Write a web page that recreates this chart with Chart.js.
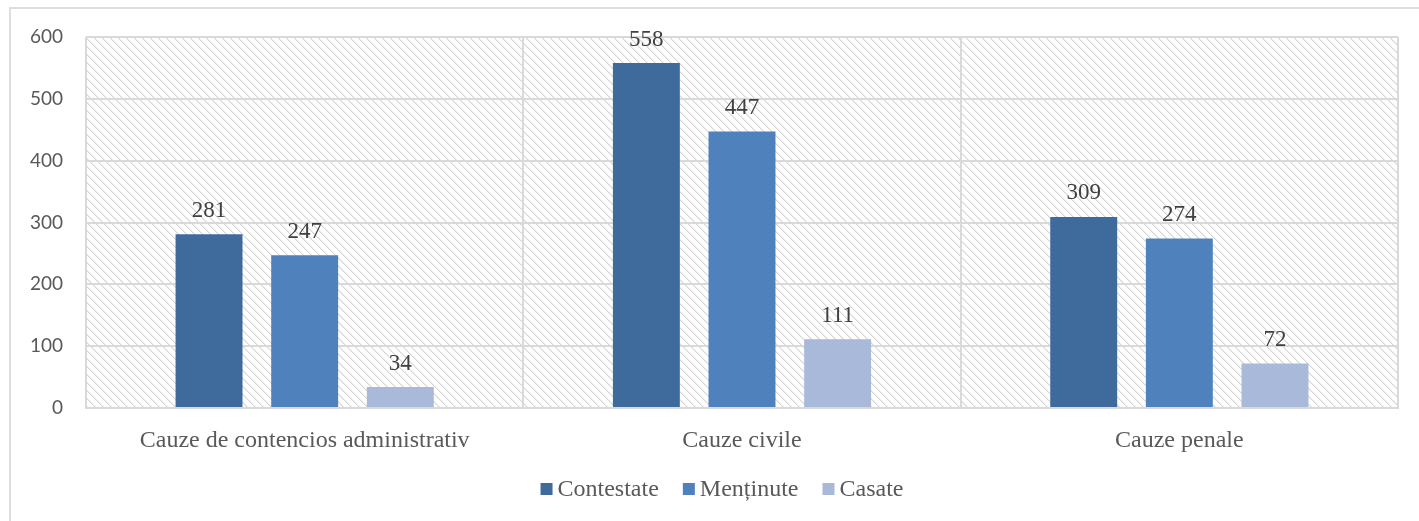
<!DOCTYPE html>
<html>
<head>
<meta charset="utf-8">
<script src="https://cdn.jsdelivr.net/npm/chart.js@4/dist/chart.umd.min.js"></script>
<style>
    html, body { margin: 0; padding: 0; background: #fff; overflow: hidden; }
    #frame {
        position: absolute; left: 9px; top: 7px;
        width: 1600px; height: 700px;
        border: 2px solid #dedede; box-sizing: border-box;
    }
    #wrap { position: absolute; left: 0; top: 0; width: 1419px; height: 521px; }
</style>
</head>
<body>
<div id="frame"></div>
<div id="wrap"><canvas id="chart"></canvas></div>
<script>
// Chart data
const categories = ['Cauze de contencios administrativ', 'Cauze civile', 'Cauze penale'];
const contestate = [281, 558, 309];
const mentinute = [247, 447, 274];
const casate = [34, 111, 72];
const yTicks = [0, 100, 200, 300, 400, 500, 600];

const SERIF = '"Liberation Serif", "Times New Roman", serif';

// light diagonal hatch behind the plot area
function makeHatch() {
    const c = document.createElement('canvas');
    c.width = 8; c.height = 8;
    const g = c.getContext('2d');
    g.fillStyle = '#ffffff';
    g.fillRect(0, 0, 8, 8);
    for (let i = 0; i < 8; i++) {
        g.fillStyle = '#d6d6d6';
        g.fillRect(i, i, 1, 1);
        g.fillStyle = '#ebebeb';
        g.fillRect((i + 1) % 8, i, 1, 1);
    }
    return c;
}

const hatchPlugin = {
    id: 'hatch',
    beforeDraw(chart) {
        const { ctx, chartArea: a } = chart;
        ctx.save();
        ctx.fillStyle = ctx.createPattern(makeHatch(), 'repeat');
        ctx.fillRect(a.left, a.top, a.right - a.left, a.bottom - a.top);
        ctx.restore();
    }
};

// value labels above each bar
const valueLabels = {
    id: 'valueLabels',
    afterDatasetsDraw(chart) {
        const ctx = chart.ctx;
        ctx.save();
        ctx.font = '23px ' + SERIF;
        ctx.fillStyle = '#404040';
        ctx.textAlign = 'center';
        ctx.textBaseline = 'bottom';
        chart.data.datasets.forEach((ds, i) => {
            chart.getDatasetMeta(i).data.forEach((bar, j) => {
                ctx.fillText(ds.data[j], bar.x, bar.y - 12);
            });
        });
        ctx.restore();
    }
};

// Excel-like legend: small squares, tight text, centred under the frame
const bottomLegend = {
    id: 'bottomLegend',
    afterDraw(chart) {
        const ctx = chart.ctx;
        const box = 12, gapText = 5, gapItem = 24;
        ctx.save();
        ctx.font = '24px ' + SERIF;
        const items = chart.data.datasets.map(ds => ({
            label: ds.label, color: ds.backgroundColor, w: ctx.measureText(ds.label).width
        }));
        const total = items.reduce((s, it) => s + box + gapText + it.w, 0) + gapItem * (items.length - 1);
        let x = (chart.width + 25) / 2 - total / 2;
        const y = 489;
        ctx.textBaseline = 'middle';
        items.forEach(it => {
            ctx.fillStyle = it.color;
            ctx.fillRect(x, y - box / 2, box, box);
            ctx.fillStyle = '#595959';
            ctx.fillText(it.label, x + box + gapText, y + 1);
            x += box + gapText + it.w + gapItem;
        });
        ctx.restore();
    }
};

new Chart(document.getElementById('chart'), {
    type: 'bar',
    data: {
        labels: categories,
        datasets: [
            { label: 'Contestate', data: contestate, backgroundColor: '#3f6a9c' },
            { label: 'Menținute', data: mentinute, backgroundColor: '#4f81bd' },
            { label: 'Casate', data: casate, backgroundColor: '#a9b9d9' }
        ]
    },
    options: {
        responsive: true,
        maintainAspectRatio: false,
        animation: false,
        categoryPercentage: 0.656,
        barPercentage: 0.70,
        layout: { padding: { top: 37, right: 21, bottom: 57, left: 0 } },
        plugins: {
            tooltip: { enabled: false },
            legend: { display: false }
        },
        scales: {
            x: {
                grid: { color: '#d9d9d9', lineWidth: 2, drawTicks: false },
                border: { color: '#d9d9d9', width: 2 },
                ticks: { color: '#595959', padding: 18, font: { family: SERIF, size: 24 } },
                afterFit(s) { s.height = 56; }
            },
            y: {
                min: 0, max: 600,
                afterBuildTicks(s) { s.ticks = yTicks.map(v => ({ value: v })); },
                grid: { color: '#d9d9d9', lineWidth: 2, drawTicks: false },
                border: { display: false },
                ticks: { color: '#595959', padding: 23, font: { family: 'Lato, "Open Sans", sans-serif', size: 19 } },
                afterFit(s) { s.width = 86; }
            }
        }
    },
    plugins: [hatchPlugin, valueLabels, bottomLegend]
});
</script>
</body>
</html>
